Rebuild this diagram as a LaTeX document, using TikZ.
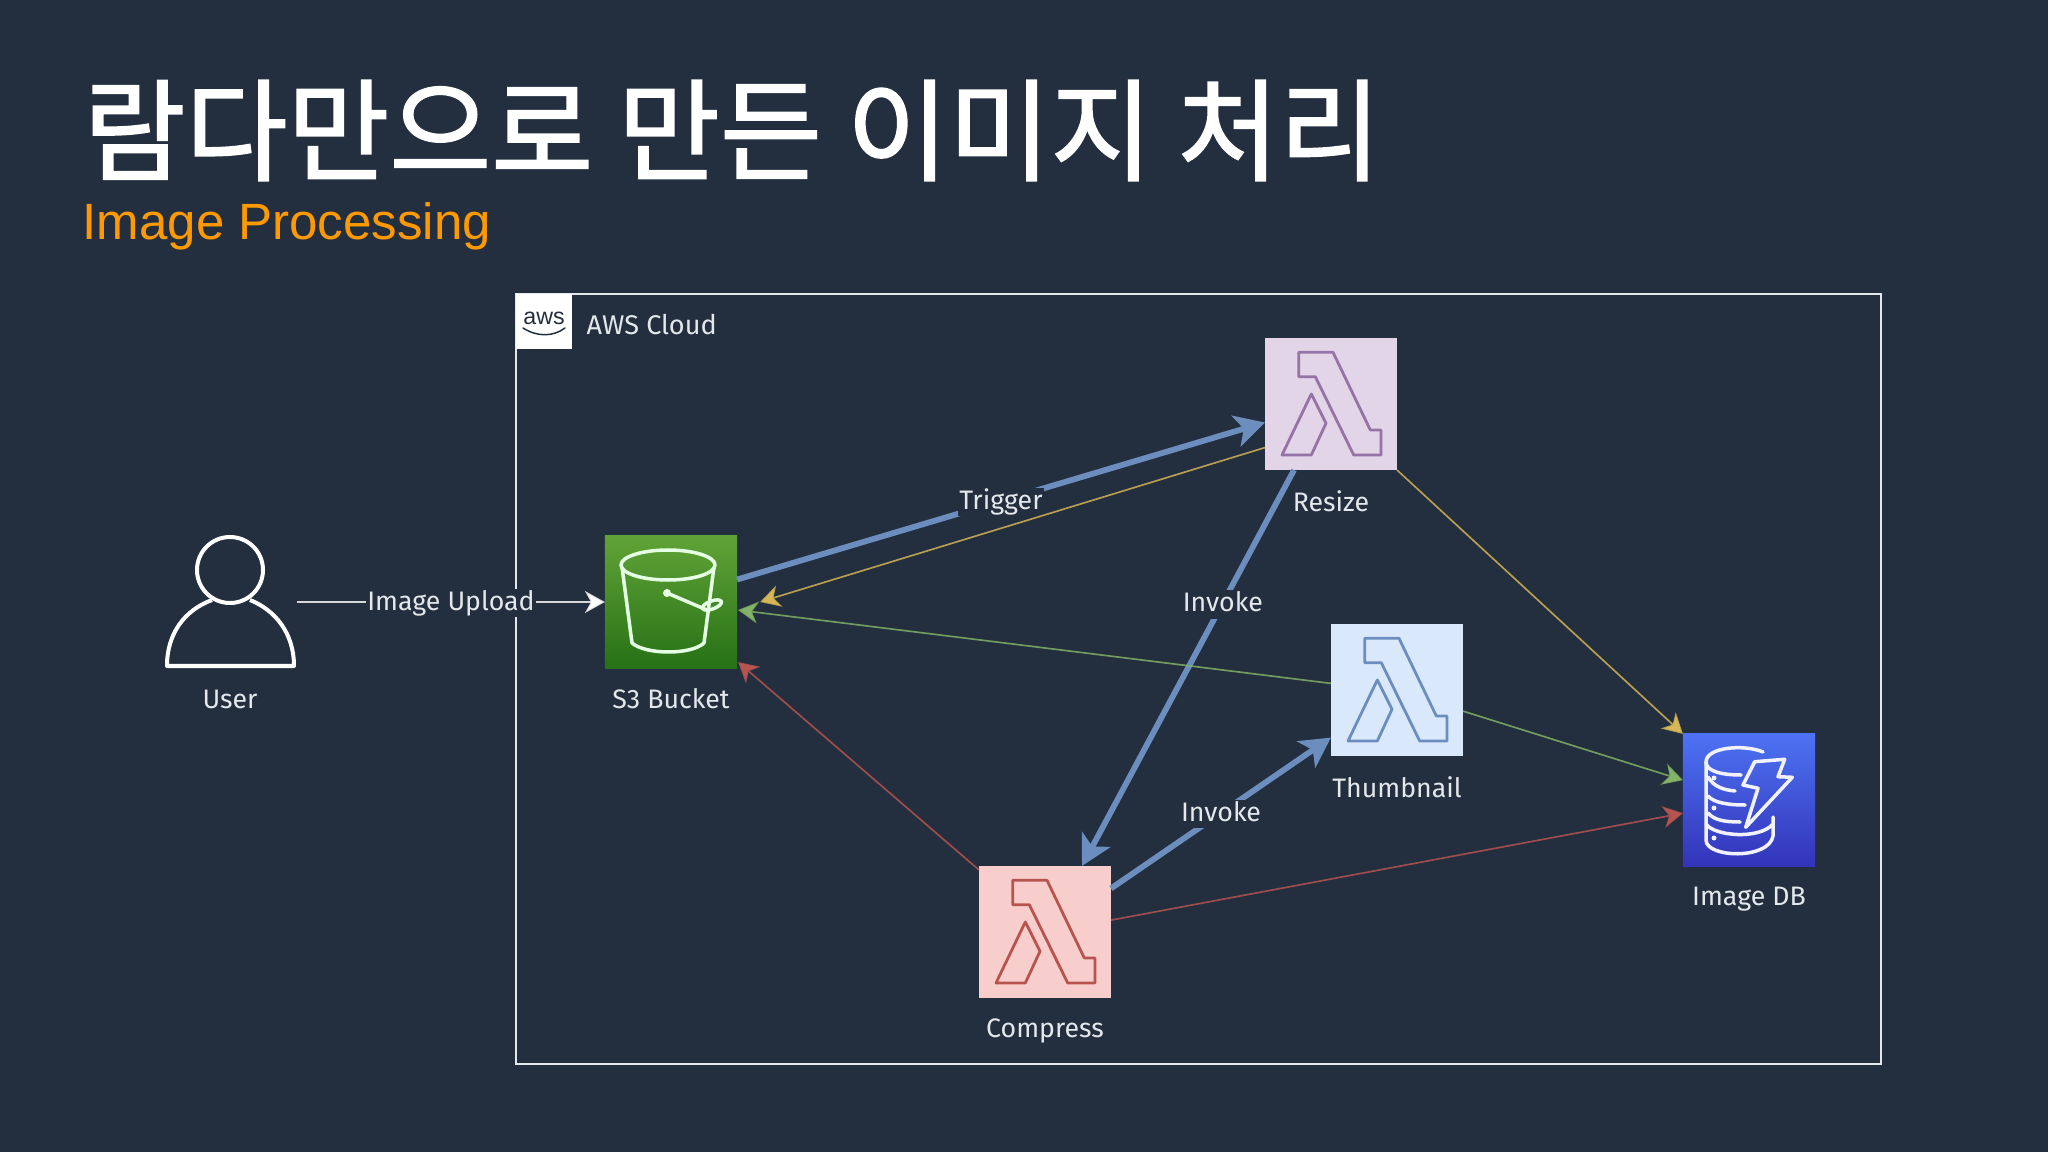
\documentclass[tikz,border=0pt]{standalone}
\usepackage{fontspec}
\setmainfont{Fira Sans}
\newfontfamily\cjk[FakeBold=1.6]{Noto Sans CJK KR}
\newfontfamily\arialfont{Liberation Sans}
\usetikzlibrary{calc}
\usetikzlibrary{arrows.meta}
\usetikzlibrary{positioning}

\definecolor{slidebg}{HTML}{232F3E}
\definecolor{labelgray}{HTML}{E4E8EC}
\definecolor{titleorange}{HTML}{FF9900}
\definecolor{linkblue}{HTML}{6C8EBF}
\definecolor{linkyellow}{HTML}{D6B656}
\definecolor{linkgreen}{HTML}{82B366}
\definecolor{linkred}{HTML}{B85450}
\definecolor{lampurple}{HTML}{E1D5E7}
\definecolor{lamblue}{HTML}{DAE8FC}
\definecolor{lamred}{HTML}{F8CECC}
\definecolor{lampurpleline}{HTML}{9673A6}
\definecolor{s3top}{HTML}{60A337}
\definecolor{s3bottom}{HTML}{277116}
\definecolor{dbtop}{HTML}{4D72F3}
\definecolor{dbbottom}{HTML}{3334B9}

\tikzset{
  iconbox/.style={minimum size=1.32cm, inner sep=0pt, outer sep=0pt},
  caption/.style={text=labelgray, font=\fontsize{7.6}{9}\selectfont, inner sep=0pt},
  linklabel/.style={fill=slidebg, text=labelgray, font=\fontsize{7.6}{9}\selectfont,
    inner sep=0.5pt, text height=5.5pt, text depth=1.5pt, yshift=-0.4pt},
  thicklink/.style={draw=linkblue, line width=0.058cm, -{Stealth[length=0.3cm, width=0.32cm, inset=0.08cm]}},
  thinlink/.style={line width=0.017cm, draw opacity=0.8, -{Stealth[length=0.2cm, width=0.22cm, inset=0.06cm]}},
  lambdaicon/.pic={
    \draw[line width=0.028cm, line join=round, #1]
      (-32.3,-51.7) -- (2,-51.7) -- (39.3,26) -- (50,26) -- (50,51) -- (22.7,51)
      -- (-15.7,-27.3) -- (-32.3,-27.3) -- cycle
      (-19.7,-10) -- (-5,19.3) -- (-19.7,51) -- (-49,51) -- cycle;
  },
}

\begin{document}
\begin{tikzpicture}[x=0.01cm, y=-0.01cm]
  \fill[slidebg] (0,0) rectangle (2048,1152);

  \node[anchor=base west, inner sep=0pt, text=white] (title) at (83,172)
    {\cjk\fontsize{31.5}{36}\selectfont 람다만으로 만든 이미지 처리};
  \node[anchor=base west, inner sep=0pt, text=titleorange] (subtitle) at (82,240)
    {\arialfont\fontsize{14.5}{17}\selectfont Image Processing};

  % cloud frame
  \draw[labelgray, line width=0.028cm] (516,294) rectangle (1881,1064);
  \fill[white] (516,294) rectangle (572,349);
  \node[text=slidebg, inner sep=0pt] (awslogo) at (544,318)
    {\arialfont\fontsize{6.6}{8}\selectfont aws};
  \draw[slidebg, line width=0.015cm, line cap=round]
    (523,328) .. controls (537,337) and (553,337) .. (565,328);
  \node[anchor=west, text=labelgray, inner sep=0pt, font=\fontsize{7.7}{9}\selectfont]
    (cloudlabel) at (586,325) {AWS Cloud};

  % icons
  \coordinate (user) at (230,618);
  \node[iconbox, top color=s3top, bottom color=s3bottom] (s3) at (671,602) {};
  \node[iconbox, fill=lampurple] (resize) at (1331,404) {};
  \node[iconbox, fill=lamblue] (thumbnail) at (1397,690) {};
  \node[iconbox, fill=lamred] (compress) at (1045,932) {};
  \node[iconbox, top color=dbtop, bottom color=dbbottom] (imagedb) at (1749,800) {};

  \pic at (resize) {lambdaicon={lampurpleline}};
  \pic at (thumbnail) {lambdaicon={linkblue}};
  \pic at (compress) {lambdaicon={linkred}};

  % user
  \begin{scope}[shift={(user)}, draw=white, line width=0.04cm, line join=round]
    \draw (0,-48) circle (33);
    \draw (-18,-18) .. controls (-45,-8) and (-63,15) .. (-63,48) -- (64,48)
       .. controls (64,15) and (45,-8) .. (20,-18);
  \end{scope}
  \node[anchor=north, text=labelgray, inner sep=0pt, font=\fontsize{7.6}{9}\selectfont]
    (userlabel) at (230,689) {User};

  % bucket
  \begin{scope}[shift={(s3)}, draw=white!90!green, line width=0.035cm, line join=round]
    \draw (-3,-37) ellipse (47 and 15);
    \draw (-49,-35) -- (-39,41) .. controls (-25,53) and (20,53) .. (33,41) -- (43,-35);
    \fill[white!90!green] (-4,-9) circle (4);
    \draw (-4,-9) -- (36,8);
    \draw[rotate around={20:(41,3)}] (41,3) ellipse (10 and 4);
  \end{scope}

  % dynamodb
  \begin{scope}[shift={(imagedb)}, draw=white!95!blue, line width=0.035cm, line cap=round, line join=round]
    \draw (14,-48) .. controls (-5,-56) and (-43,-53) .. (-43,-38)
      .. controls (-43,-28) and (-25,-25) .. (-8,-25);
    \draw (-43,-38) -- (-43,40) .. controls (-43,58) and (20,60) .. (24,36) -- (24,17);
    \draw (-41,-23) .. controls (-35,-13) and (-25,-10) .. (-14,-9);
    \draw (-41,-4) .. controls (-35,3) and (-20,5) .. (-4,5);
    \draw (-41,13) .. controls (-35,20) and (-25,22) .. (-9,22);
    \draw (-43,24) .. controls (-35,36) and (10,40) .. (24,24);
    \foreach \y in {-22, 8, 38}{
      \fill[white!95!blue] (-35,\y) circle (2.5);
    }
    \draw (5.7,-38.3) -- (35.7,-40.7) -- (29,-23.3) -- (43.3,-22.7) -- (-3.3,27.3)
      -- (9,-11.7) -- (-6,-15) -- cycle;
  \end{scope}

  % captions
  \node[caption, below=0.2cm of s3] (s3label) {S3 Bucket};
  \node[caption, below=0.2cm of resize] (resizelabel) {Resize};
  \node[caption, below=0.2cm of thumbnail] (thumbnaillabel) {Thumbnail};
  \node[caption, below=0.2cm of compress] (compresslabel) {Compress};
  \node[caption, below=0.2cm of imagedb] (imagedblabel) {Image DB};

  % links
  \coordinate (userout) at (297,602);
  \draw[thinlink, draw=white, fill=white, line width=0.02cm] (userout) -- node[linklabel] (uploadlabel) {Image Upload} (s3.west);

  \draw[thicklink] ($(s3.north east)!0.33!(s3.south east)$)
    -- node[linklabel] (triggerlabel) {Trigger} ($(resize.north west)!0.64!(resize.south west)$);
  \draw[thicklink] ($(resize.south west)!0.22!(resize.south east)$)
    -- node[linklabel, pos=0.336] (invokelabela) {Invoke} ($(compress.north west)!0.78!(compress.north east)$);
  \draw[thicklink] ($(compress.north east)!0.17!(compress.south east)$)
    -- node[linklabel] (invokelabelb) {Invoke} ($(thumbnail.north west)!0.86!(thumbnail.south west)$);

  \draw[thinlink, draw=linkyellow, fill=linkyellow] ($(resize.north west)!0.83!(resize.south west)$)
    -- ($(s3.east)+(23,0)$);
  \draw[thinlink, draw=linkgreen, fill=linkgreen] ($(thumbnail.north west)!0.45!(thumbnail.south west)$)
    -- ($(s3.east)+(1,8)$);
  \draw[thinlink, draw=linkred, fill=linkred] ($(compress.north west)+(0,4)$) -- ($(s3.south east)+(1,-6)$);
  \draw[thinlink, draw=linkyellow, fill=linkyellow] (resize.south east) -- (imagedb.north west);
  \draw[thinlink, draw=linkgreen, fill=linkgreen] ($(thumbnail.north east)!0.66!(thumbnail.south east)$)
    -- ($(imagedb.north west)!0.35!(imagedb.south west)$);
  \draw[thinlink, draw=linkred, fill=linkred] ($(compress.north east)!0.41!(compress.south east)$)
    -- ($(imagedb.north west)!0.6!(imagedb.south west)$);
\end{tikzpicture}
\end{document}
